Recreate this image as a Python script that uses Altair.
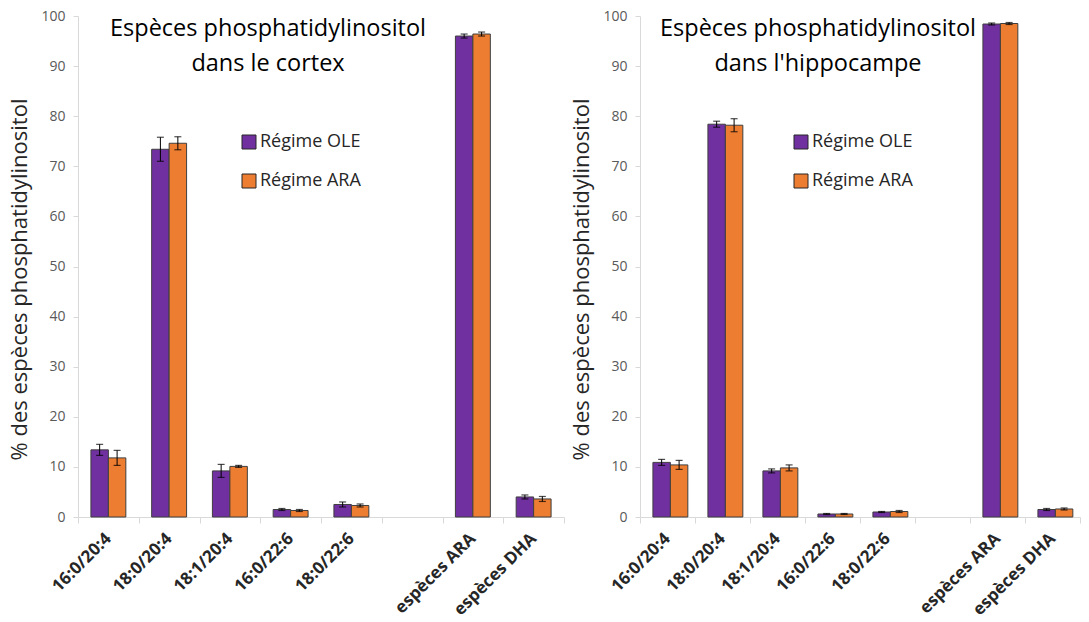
import altair as alt
import pandas as pd

categories = ["16:0/20:4", "18:0/20:4", "18:1/20:4", "16:0/22:6", "18:0/22:6", " ", "espèces ARA", "espèces DHA"]
series = ["Régime OLE", "Régime ARA"]
colors = ["#7030A0", "#ED7D31"]

cortex_ole = [13.4, 73.4, 9.2, 1.5, 2.5, None, 96.0, 4.0]
cortex_ole_err = [1.1, 2.4, 1.3, 0.2, 0.5, None, 0.4, 0.4]
cortex_ara = [11.8, 74.6, 10.1, 1.3, 2.3, None, 96.4, 3.6]
cortex_ara_err = [1.5, 1.3, 0.2, 0.2, 0.3, None, 0.4, 0.5]

hippo_ole = [10.9, 78.4, 9.2, 0.6, 1.0, None, 98.4, 1.5]
hippo_ole_err = [0.6, 0.6, 0.4, 0.1, 0.1, None, 0.2, 0.2]
hippo_ara = [10.4, 78.2, 9.8, 0.6, 1.1, None, 98.5, 1.6]
hippo_ara_err = [0.9, 1.3, 0.6, 0.1, 0.2, None, 0.2, 0.2]

FONT = "Open Sans"


def make_df(ole, ole_err, ara, ara_err):
    rows = []
    for s, vals, errs in [(series[0], ole, ole_err), (series[1], ara, ara_err)]:
        for c, v, e in zip(categories, vals, errs):
            if v is None:
                continue
            rows.append({"cat": c, "serie": s, "val": v, "lo": v - e, "hi": v + e})
    return pd.DataFrame(rows)


def panel(df, title_lines, title_x, legend_x, width):
    x = alt.X("cat:N", title=None,
              scale=alt.Scale(domain=categories, paddingInner=0, paddingOuter=0),
              axis=alt.Axis(tickBand="extent", labelAngle=-45, labelFontWeight="bold",
                            labelFontSize=17, labelColor="#262626", labelFont=FONT,
                            domainColor="#D9D9D9", tickColor="#D9D9D9", tickSize=6,
                            labelPadding=7, labelOffset=-6, grid=False))
    xo = alt.XOffset("serie:N", scale=alt.Scale(domain=series, paddingInner=0, paddingOuter=0.74))
    base = alt.Chart(df).encode(x=x, xOffset=xo)
    y = alt.Y("val:Q", title="% des espèces phosphatidylinositol",
              scale=alt.Scale(domain=[0, 100], nice=False),
              axis=alt.Axis(values=list(range(0, 101, 10)), grid=False,
                            domainColor="#D9D9D9", tickColor="#D9D9D9", tickSize=5,
                            labelFontSize=14, labelColor="#595959", labelFont=FONT,
                            labelPadding=8, titleFontSize=22, titleFontWeight="normal",
                            titleColor="#262626", titleFont=FONT, titlePadding=9, titleY=263))
    bars = base.mark_bar(stroke="#3F3F3F", strokeWidth=1).encode(
        y=y,
        color=alt.Color("serie:N", scale=alt.Scale(domain=series, range=colors),
                        legend=alt.Legend(title=None, orient="none", legendX=legend_x, legendY=117,
                                          symbolType="square", symbolSize=196,
                                          symbolStrokeColor="#262626", symbolStrokeWidth=1,
                                          labelFontSize=18, labelFont=FONT, labelColor="#262626",
                                          rowPadding=21, labelOffset=2)),
    )
    rules = base.mark_rule(color="black", strokeWidth=1).encode(y="lo:Q", y2="hi:Q")
    cap_lo = base.mark_tick(color="black", size=7, thickness=1.2).encode(y="lo:Q")
    cap_hi = base.mark_tick(color="black", size=7, thickness=1.2).encode(y="hi:Q")
    title = alt.Chart(pd.DataFrame({"t": [0]})).mark_text(
        text=title_lines, font=FONT, fontSize=23.5, color="#000000",
        align="center", baseline="top", lineHeight=35,
    ).encode(x=alt.value(title_x), y=alt.value(1))
    return alt.layer(bars, rules, cap_lo, cap_hi, title).properties(width=width, height=501)


left = panel(make_df(cortex_ole, cortex_ole_err, cortex_ara, cortex_ara_err),
             ["Espèces phosphatidylinositol", "dans le cortex"], 190, 162, 486)
right = panel(make_df(hippo_ole, hippo_ole_err, hippo_ara, hippo_ara_err),
              ["Espèces phosphatidylinositol", "dans l'hippocampe"], 178, 152, 440)

chart = alt.hconcat(left, right, spacing=5).resolve_scale(color="independent").resolve_legend(
    color="independent").configure(padding={"top": 1, "left": 0, "right": 0, "bottom": 0}
                                   ).configure_view(stroke=None)

chart.save("out.html", embed_options={"renderer": "svg", "actions": False})
